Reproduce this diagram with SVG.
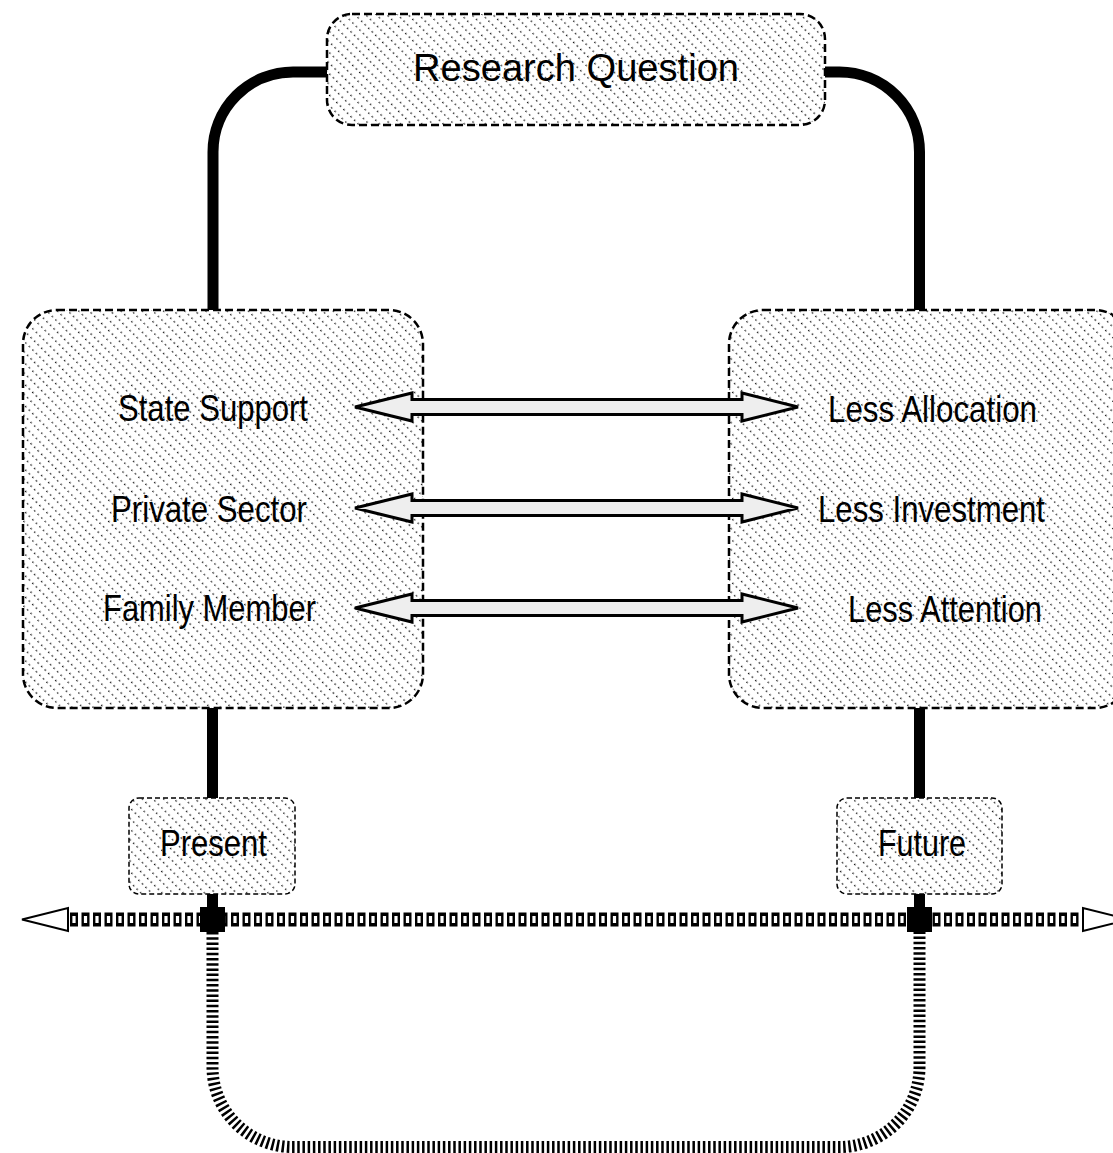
<svg xmlns="http://www.w3.org/2000/svg" width="1113" height="1153" viewBox="0 0 1113 1153">
<style>
.box{stroke:#000;stroke-width:2.5;stroke-dasharray:8 4;fill:url(#hatch)}
.sbox{stroke:#000;stroke-width:1.5;stroke-dasharray:5 3;fill:url(#hatch)}
.lbl{font-family:"Liberation Sans",Arial,sans-serif;font-size:36px;fill:#000}
.conn{fill:none;stroke:#000;stroke-width:11}
.dbl{fill:#EEEEEE;stroke:#000;stroke-width:3;stroke-linejoin:miter}
</style>
<defs>
<pattern id="hatch" patternUnits="userSpaceOnUse" width="7.5" height="5" patternTransform="rotate(-45)">
<rect width="7.5" height="5" fill="#fff"/>
<rect x="0" y="0" width="1.3" height="1.5" fill="#111"/>
</pattern>
</defs>
<rect width="1113" height="1153" fill="#fff"/>

<g id="connectors">
<path class="conn" d="M327,72 H293 A80,80 0 0 0 213,152 V310"/>
<path class="conn" d="M825,72 H839.5 A80,80 0 0 1 919.5,152 V310"/>
<path class="conn" d="M212.5,708 V798"/>
<path class="conn" d="M919.5,708 V798"/>
<path class="conn" d="M212.5,894 V907"/>
<path class="conn" d="M919.5,894 V907"/>
<path fill="none" stroke="#000" stroke-width="12" stroke-dasharray="2.5 2.7" d="M212.5,932 V1067 A80,80 0 0 0 292.5,1147 H839.5 A80,80 0 0 0 919.5,1067 V932"/>
<g id="timeline">
<path fill="none" stroke="#000" stroke-width="14" stroke-dasharray="8 3.5" d="M70,919.5 H1083"/>
<path fill="none" stroke="#fff" stroke-width="7" stroke-dasharray="3.2 8.3" stroke-dashoffset="-2.4" d="M70,919.5 H1083"/>
<polygon points="22,919.5 68,908 68,931" fill="#fff" stroke="#000" stroke-width="2"/>
<polygon points="1129,919.5 1083,908 1083,931" fill="#fff" stroke="#000" stroke-width="2"/>
<rect x="200" y="907" width="25" height="25" fill="#000"/>
<rect x="907" y="907" width="25" height="25" fill="#000"/>
</g>
</g>

<g id="research-question">
<rect class="box" x="327" y="14" width="498" height="111" rx="25" ry="25"/>
<text class="lbl" x="413" y="81" style="font-size:38px" textLength="326" lengthAdjust="spacingAndGlyphs">Research Question</text>
</g>

<g id="left-box">
<rect class="box" x="23" y="310" width="400" height="398" rx="34" ry="34"/>
<text class="lbl" x="118" y="421" textLength="190" lengthAdjust="spacingAndGlyphs">State Support</text>
<text class="lbl" x="111" y="522" textLength="196" lengthAdjust="spacingAndGlyphs">Private Sector</text>
<text class="lbl" x="103" y="621" textLength="213" lengthAdjust="spacingAndGlyphs">Family Member</text>
</g>

<g id="right-box">
<rect class="box" x="729" y="310" width="400" height="398" rx="34" ry="34"/>
<text class="lbl" x="828" y="422" textLength="209" lengthAdjust="spacingAndGlyphs">Less Allocation</text>
<text class="lbl" x="818" y="522" textLength="227" lengthAdjust="spacingAndGlyphs">Less Investment</text>
<text class="lbl" x="848" y="622" textLength="194" lengthAdjust="spacingAndGlyphs">Less Attention</text>
</g>

<g id="arrows">
<polygon class="dbl" points="355,407 412,393 412,399.5 742,399.5 742,393 798,407 742,421 742,414.5 412,414.5 412,421"/>
<polygon class="dbl" points="355,508 412,494 412,500.5 742,500.5 742,494 798,508 742,522 742,515.5 412,515.5 412,522"/>
<polygon class="dbl" points="355,608 412,594 412,600.5 742,600.5 742,594 798,608 742,622 742,615.5 412,615.5 412,622"/>
</g>

<g id="present">
<rect class="sbox" x="129" y="798" width="166" height="96" rx="10" ry="10"/>
<text class="lbl" x="160" y="856" textLength="107" lengthAdjust="spacingAndGlyphs">Present</text>
</g>

<g id="future">
<rect class="sbox" x="837" y="798" width="165" height="96" rx="10" ry="10"/>
<text class="lbl" x="878" y="856" textLength="88" lengthAdjust="spacingAndGlyphs">Future</text>
</g>
</svg>
